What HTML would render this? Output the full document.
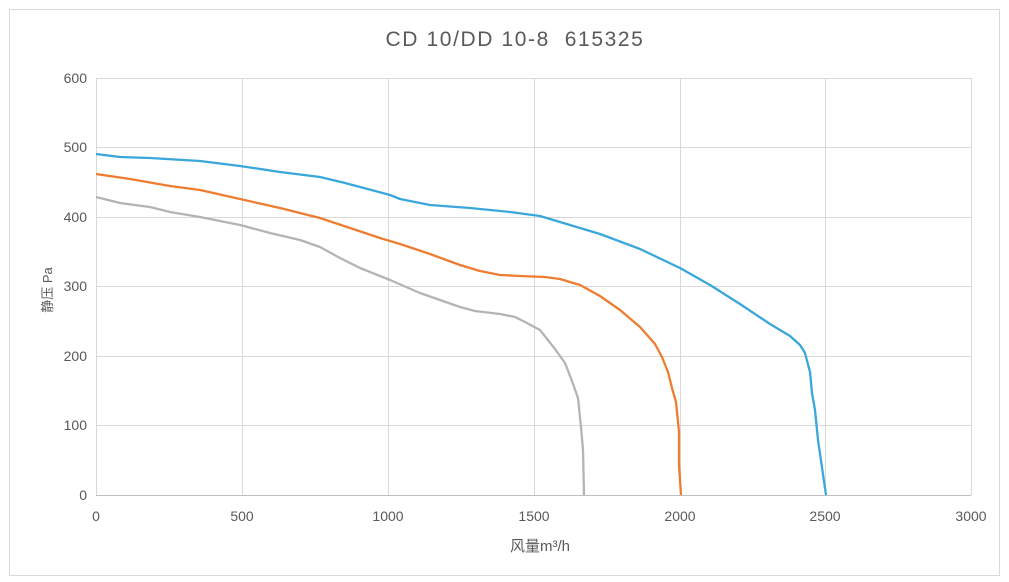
<!DOCTYPE html>
<html><head><meta charset="utf-8"><style>
html,body{margin:0;padding:0;background:#fff}
svg{display:block}
text{font-family:"Liberation Sans","Noto Sans CJK SC",sans-serif;fill:#595959}
</style></head><body>
<svg width="1009" height="582" viewBox="0 0 1009 582" xmlns="http://www.w3.org/2000/svg">
<rect x="9.5" y="9.5" width="990" height="566" fill="#fff" stroke="#d9d9d9"/>
<text x="515" y="46" font-size="21" text-anchor="middle" letter-spacing="1.6" xml:space="preserve">CD 10/DD 10-8  615325</text>
<g stroke="#d9d9d9" stroke-width="1">
<line x1="96" y1="78.5" x2="971" y2="78.5"/>
<line x1="96" y1="147.5" x2="971" y2="147.5"/>
<line x1="96" y1="217.5" x2="971" y2="217.5"/>
<line x1="96" y1="286.5" x2="971" y2="286.5"/>
<line x1="96" y1="356.5" x2="971" y2="356.5"/>
<line x1="96" y1="425.5" x2="971" y2="425.5"/>
<line x1="96.5" y1="78" x2="96.5" y2="495"/>
<line x1="242.5" y1="78" x2="242.5" y2="495"/>
<line x1="388.5" y1="78" x2="388.5" y2="495"/>
<line x1="534.5" y1="78" x2="534.5" y2="495"/>
<line x1="680.5" y1="78" x2="680.5" y2="495"/>
<line x1="825.5" y1="78" x2="825.5" y2="495"/>
<line x1="971.5" y1="78" x2="971.5" y2="495"/>
</g>
<line x1="96" y1="495.5" x2="971" y2="495.5" stroke="#bfbfbf"/>
<g font-size="14" text-anchor="end">
<text x="87" y="83">600</text><text x="87" y="152">500</text><text x="87" y="222">400</text>
<text x="87" y="291">300</text><text x="87" y="361">200</text><text x="87" y="430">100</text><text x="87" y="500">0</text>
</g>
<g font-size="14" text-anchor="middle">
<text x="96" y="521">0</text><text x="242" y="521">500</text><text x="388" y="521">1000</text>
<text x="534" y="521">1500</text><text x="680" y="521">2000</text><text x="825" y="521">2500</text><text x="971" y="521">3000</text>
</g>
<text x="540" y="551" font-size="15" text-anchor="middle">风量m³/h</text>
<text transform="translate(52,290) rotate(-90)" font-size="13" text-anchor="middle">静压 Pa</text>
<g fill="none" stroke-width="2.3" stroke-linejoin="round">
<polyline stroke="#3aa7db" points="96,154 120,157 150,158 200,161 240,166 280,172 320,177 345,183 390,195 400,199 430,205 470,208 510,212 540,216 570,225 600,234 640,249 680,268 710,285 740,304 770,324 790,336 800,345 805,353 810,372 812,393 815,410 818,440 826,495"/>
<polyline stroke="#ed7d31" points="96,174 130,179 170,186 200,190 240,199 280,208 320,218 350,228 380,238 400,244 430,254 460,265 480,271 500,275 520,276 545,277 560,279 580,285 600,296 620,310 640,327 655,344 662,357 668,372 672,388 676,402 679,432 679,465 681,495"/>
<polyline stroke="#b4b4b4" points="96,197 120,203 150,207 170,212 200,217 240,225 270,233 300,240 320,247 340,258 360,268 390,280 420,293 440,300 460,307 475,311 500,314 515,317 525,322 540,330 555,349 565,363 572,381 578,398 581,427 583,450 584,495"/>
</g>
</svg>
</body></html>
